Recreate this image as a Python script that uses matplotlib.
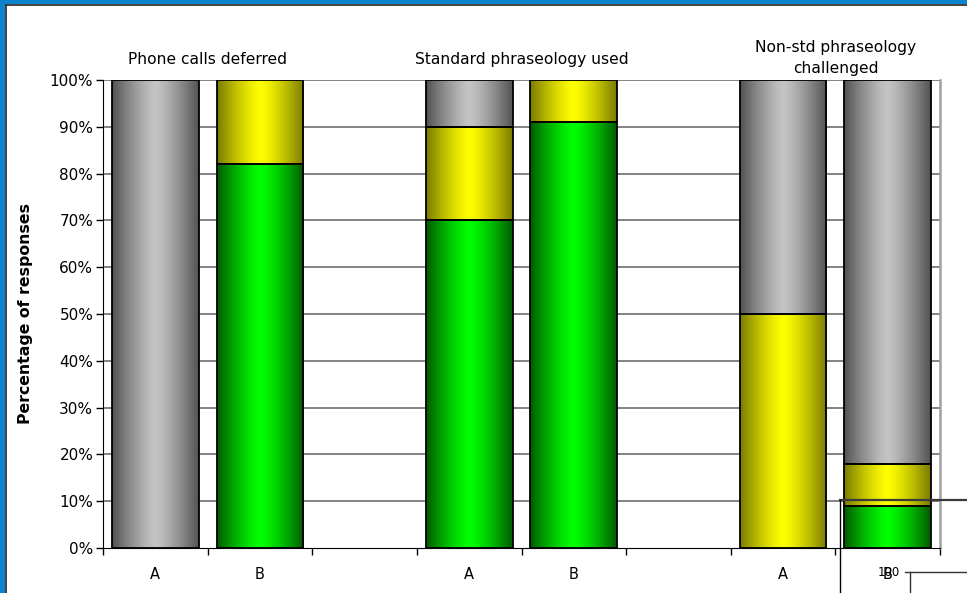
import numpy as np
import matplotlib
matplotlib.use("Agg")
import matplotlib.pyplot as plt
from matplotlib.patches import Rectangle
from matplotlib.lines import Line2D
from matplotlib.colors import to_rgb

# Slots along the x axis (empty strings are spacer slots between groups)
categories = ["A", "B", "", "A", "B", "", "A", "B"]
groups = ["Phone calls deferred", "Standard phraseology used",
          "Non-std phraseology\nchallenged"]
group_slots = [0.5, 3.5, 6.5]

# Percentages per slot, stacked bottom to top: green, yellow, grey
green_vals = [0, 82, 0, 70, 91, 0, 0, 9]
yellow_vals = [0, 18, 0, 20, 9, 0, 50, 9]
grey_vals = [100, 0, 0, 10, 0, 0, 50, 82]

yticks = list(range(0, 101, 10))
ytick_labels = [f"{v}%" for v in yticks]

shades = {
    "green": ("#005a00", "#00ff00"),
    "yellow": ("#7a7a00", "#ffff00"),
    "grey": ("#525252", "#c4c4c4"),
}

plt.rcParams["font.family"] = ["DejaVu Sans"]

fig = plt.figure(figsize=(9.67, 5.93), dpi=100)
fig.patch.set_facecolor("white")
ax = fig.add_axes([103 / 967, 1 - 548 / 593, (940 - 103) / 967, (548 - 80) / 593])

x = np.arange(len(categories))
width = 0.83


def cylinder(color_key):
    dark, light = (np.array(to_rgb(c)) for c in shades[color_key])
    u = np.linspace(0, 1, 256)
    t = 1 - np.abs(2 * u - 1) ** 1.3
    t = t[None, :, None]
    return dark + (light - dark) * t


bottoms = np.zeros(len(categories))
for vals, key in [(green_vals, "green"), (yellow_vals, "yellow"), (grey_vals, "grey")]:
    vals = np.array(vals, dtype=float)
    img = cylinder(key)
    for xi, v, b0 in zip(x, vals, bottoms):
        if v <= 0:
            continue
        (b,) = ax.bar(xi, v, width, bottom=b0, facecolor="none",
                      edgecolor="black", linewidth=1.3, zorder=4)
        x0, y0 = b.get_x(), b.get_y()
        im = ax.imshow(img, extent=(x0, x0 + b.get_width(), y0, y0 + b.get_height()),
                       aspect="auto", interpolation="bilinear", zorder=3)
        im.set_clip_path(b)
    bottoms += vals

ax.set_xlim(-0.5, len(categories) - 0.5)
ax.set_ylim(0, 100)

ax.set_yticks(yticks)
ax.set_yticklabels(ytick_labels, fontsize=11)
ax.set_xticks(x)
ax.set_xticklabels(categories, fontsize=10.5)
ax.tick_params(axis="x", length=0, pad=14)
ax.set_xticks(np.arange(-0.5, len(categories) - 0.4, 1), minor=True)
ax.tick_params(axis="x", which="minor", length=5, width=1, color="black", direction="out")
ax.tick_params(axis="y", length=5, width=1, direction="out", pad=2)

for v in yticks[1:]:
    ax.axhline(v, color="#7a7a7a", linewidth=1.3, zorder=1)

ax.spines["left"].set_color("black")
ax.spines["bottom"].set_color("black")
ax.spines["right"].set_color("#a0a0a0")
ax.spines["right"].set_linewidth(1.8)
ax.spines["top"].set_visible(False)
ax.spines["bottom"].set_zorder(5)

ax.set_ylabel("Percentage of responses", fontsize=11.3, fontweight="bold", labelpad=12)

for gx, title in zip(group_slots, groups):
    ty = 104.7 if "\n" in title else 104.3
    ax.text(gx, ty, title, ha="center", va="center", fontsize=11.2,
            linespacing=1.5, clip_on=False)

# Frame: blue strip along the top and left edges with a dark inner rule
fw, fh = 967, 593
fig.patches.append(Rectangle((0, 1 - 4 / fh), 1, 4 / fh, transform=fig.transFigure,
                             facecolor="#0b84cf", edgecolor="none", zorder=10))
fig.patches.append(Rectangle((0, 0), 5 / fw, 1, transform=fig.transFigure,
                             facecolor="#0b84cf", edgecolor="none", zorder=10))
fig.add_artist(Line2D([5.5 / fw, 1], [1 - 4.5 / fh, 1 - 4.5 / fh], color="#222222", lw=1.2))
fig.add_artist(Line2D([5.5 / fw, 5.5 / fw], [0, 1 - 4.5 / fh], color="#222222", lw=1.2))

# Overlapping fragment of an embedded chart in the lower-right corner
fig.add_artist(Line2D([840 / fw, 1], [1 - 500 / fh, 1 - 500 / fh], color="#3a3a3a", lw=1.6, zorder=20))
fig.add_artist(Line2D([840 / fw, 840 / fw], [0, 1 - 500 / fh], color="black", lw=1.0, zorder=20))
fig.add_artist(Line2D([905 / fw, 1], [1 - 572 / fh, 1 - 572 / fh], color="#333333", lw=1.0, zorder=20))
fig.add_artist(Line2D([910 / fw, 910 / fw], [0, 1 - 572 / fh], color="#333333", lw=1.0, zorder=20))
fig.text(878 / fw, 1 - 573 / fh, "100", fontsize=8.5, ha="left", va="center", zorder=20)

fig.savefig("out.png", dpi=100, facecolor="white")
